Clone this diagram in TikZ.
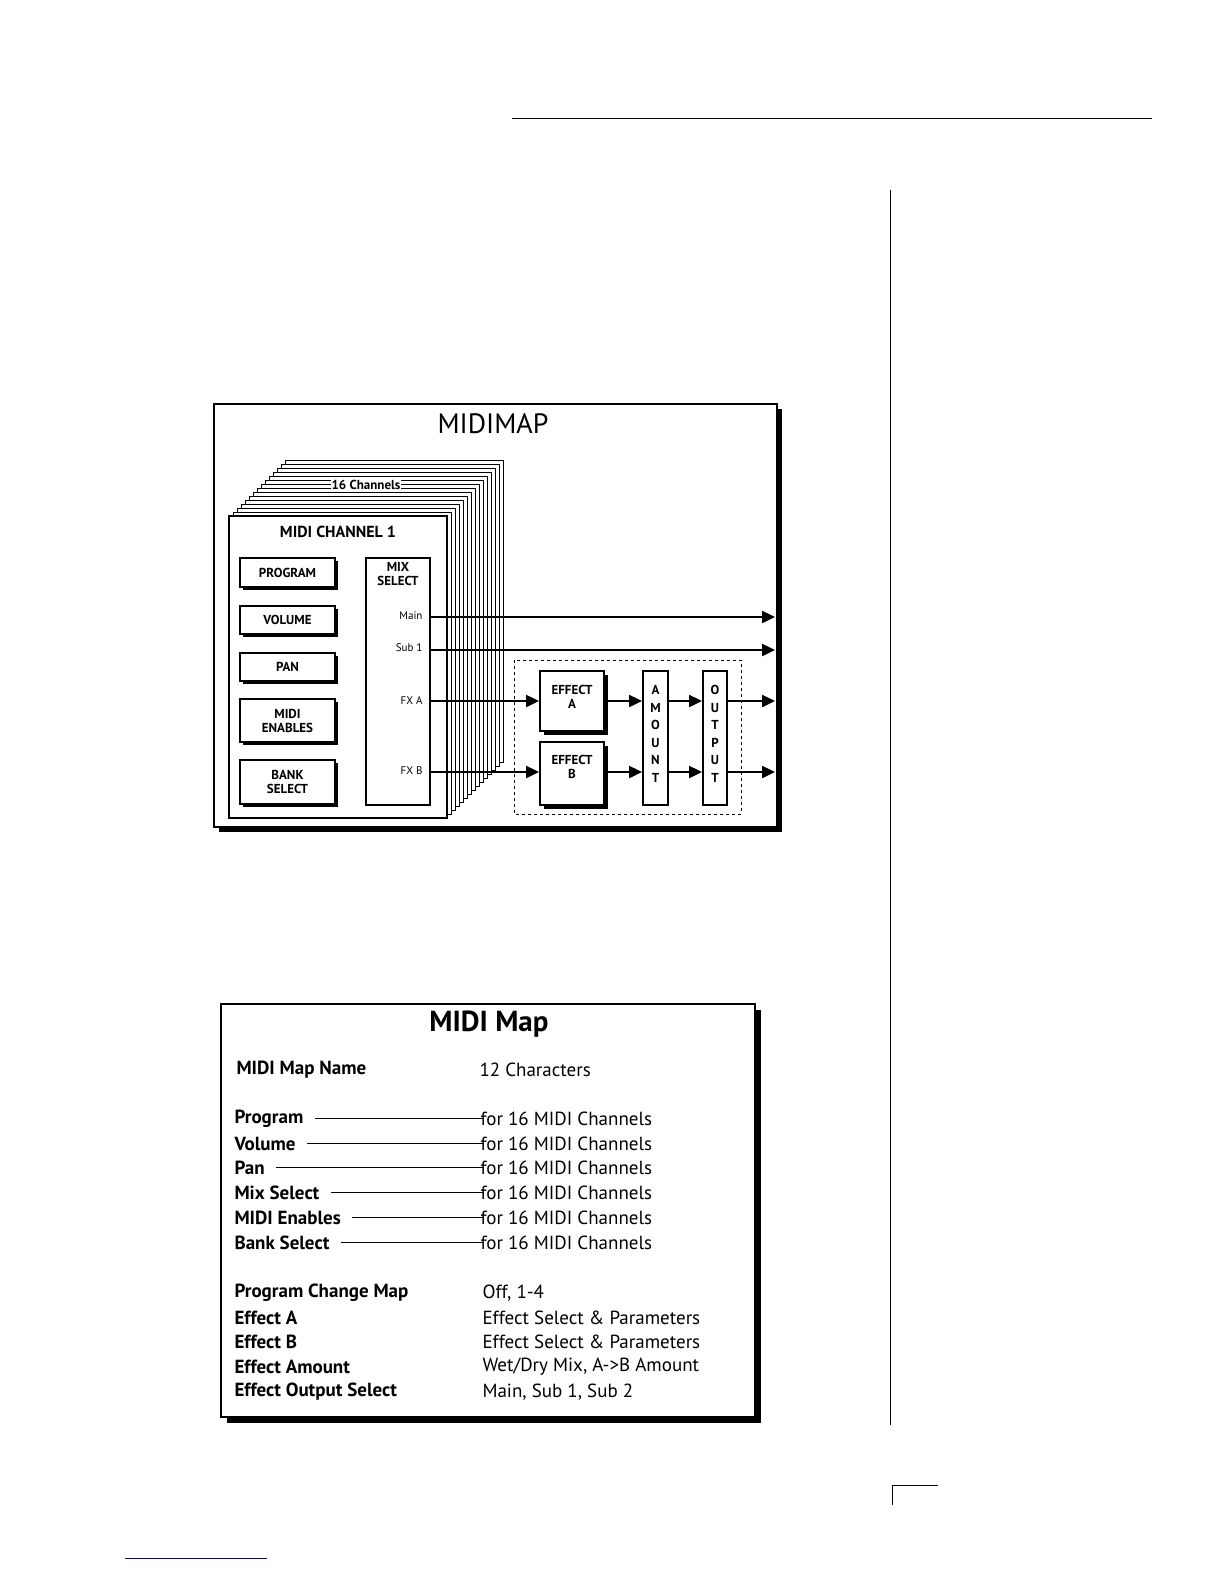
\documentclass[tikz,border=0pt]{standalone}
\usepackage{fontspec}
\setmainfont{PT Sans}
\usetikzlibrary{arrows.meta}
\begin{document}
\begin{tikzpicture}[x=1pt,y=-1pt,
  box/.style={draw,line width=1.4pt,fill=white},
  shad/.style={fill=black},
  flow/.style={line width=2.4pt,-{Triangle[length=13pt,width=12pt]}},
  sm/.style={font=\fontsize{13}{14}\selectfont\bfseries,align=center},
  row/.style={anchor=west,font=\fontsize{19}{20}\selectfont\bfseries},
  val/.style={anchor=west,font=\fontsize{19}{20}\selectfont},
  conn/.style={line width=0.9pt}]
\useasboundingbox (0,0) rectangle (1224,1584);
\fill[white] (0,0) rectangle (1224,1584);
% page rules
\draw[line width=1pt] (512,119) -- (1152,119);
\draw[line width=1pt] (890,190) -- (890,1425);
\draw[line width=1pt] (938,1485) -- (892,1485) -- (892,1505);
\draw[line width=1pt,blue!60!black] (125,1558) -- (267,1558);
% MIDIMAP box
\fill (219,409) rectangle (782,832);
\draw[box] (214,404) rectangle (777,827);
\node[font=\fontsize{28}{30}\selectfont] (ttl) at (493,424) {MIDIMAP};
% stacked pages
\foreach \k in {14,13,...,1}{
  \draw[line width=1pt,fill=white] (229+4*\k,516-4*\k) rectangle (447+4*\k,818-4*\k);
}
\node[fill=white,inner sep=1pt,font=\fontsize{13}{14}\selectfont\bfseries] (ch16) at (366,485) {16 Channels};
\draw[box] (229,516) rectangle (447,818);
\node[font=\fontsize{16}{17}\selectfont\bfseries] (ch1) at (338,532) {MIDI CHANNEL 1};
% left boxes
\foreach \n/\a/\b/\t in {prog/558/587/PROGRAM,vol/606/634/VOLUME,pan/653/681/PAN,men/699/742/MIDI\\ENABLES,bank/760/804/BANK\\SELECT}{
  \fill (243,\a+3) rectangle (338,\b+3);
  \draw[box] (240,\a) rectangle (335,\b);
  \node[sm] (\n) at (287.5,{(\a+\b)/2}) {\t};
}
% mix select
\draw[box] (366,558) rectangle (430,805);
\node[sm,anchor=north] (mix) at (398,559) {MIX\\SELECT};
\node[font=\fontsize{11}{12}\selectfont,anchor=east] (pmain) at (426,616) {Main};
\node[font=\fontsize{11}{12}\selectfont,anchor=east] (psub) at (426,648) {Sub 1};
\node[font=\fontsize{11}{12}\selectfont,anchor=east] (pfxa) at (426,701) {FX A};
\node[font=\fontsize{11}{12}\selectfont,anchor=east] (pfxb) at (426,771) {FX B};
\coordinate (oMain) at (430,617);
\coordinate (oSub) at (430,650);
\coordinate (oA) at (430,701);
\coordinate (oB) at (430,772);
\coordinate (eMain) at (775,617);
\coordinate (eSub) at (775,650);
% dashed region
\draw[dashed,line width=1pt] (514,660) rectangle (741,814);
% effects
\fill (544,675) rectangle (608,735);
\draw[box] (540,671) rectangle (604,731);
\node[sm,anchor=north] (efa) at (572,682) {EFFECT\\A};
\fill (544,746) rectangle (608,809);
\draw[box] (540,742) rectangle (604,805);
\node[sm,anchor=north] (efb) at (572,752) {EFFECT\\B};
\draw[box] (643,671) rectangle (668,805);
\node[sm,anchor=north,font=\fontsize{13}{17.5}\selectfont\bfseries] (amt) at (655.5,682) {A\\M\\O\\U\\N\\T};
\draw[box] (703,671) rectangle (727,805);
\node[sm,anchor=north,font=\fontsize{13}{17.5}\selectfont\bfseries] (outp) at (715,682) {O\\U\\T\\P\\U\\T};
\draw[flow] (oMain) -- (eMain);
\draw[flow] (oSub) -- (eSub);
\draw[flow] (oA) -- (539,701);
\draw[flow] (oB) -- (539,772);
\draw[flow] (604,701) -- (642,701);
\draw[flow] (604,772) -- (642,772);
\draw[flow] (668,701) -- (702,701);
\draw[flow] (668,772) -- (702,772);
\draw[flow] (727,701) -- (775,701);
\draw[flow] (727,772) -- (775,772);
% MIDI Map table
\fill (227,1010) rectangle (761,1423);
\draw[box] (221,1004) rectangle (755,1417);
\node[font=\fontsize{29}{30}\selectfont\bfseries] (t2) at (489,1024) {MIDI Map};
\node[row] (nm) at (233,1070) {MIDI Map Name};
\node[val] (nmv) at (476,1070) {12 Characters};
\foreach \n/\y/\t in {r1/1119/Program,r2/1144/Volume,r3/1168/Pan,r4/1193/Mix Select,r5/1218/MIDI Enables,r6/1243/Bank Select}{
  \node[row] (\n) at (231,\y) {\t};
  \node[val] (\n v) at (477,\y) {for 16 MIDI Channels};
  \draw[conn] ([xshift=8pt,yshift=1pt]\n.east) -- ([xshift=6pt,yshift=1pt]\n v.west);
}
\foreach \n/\y/\t/\v in {s1/1293/Program Change Map/{Off, 1-4},s2/1318/Effect A/{Effect Select \& Parameters},s3/1342/Effect B/{Effect Select \& Parameters},s4/1367/Effect Amount/{Wet/Dry Mix, A->B Amount},s5/1392/Effect Output Select/{Main, Sub 1, Sub 2}}{
  \node[row] (\n) at (231,\y) {\t};
  \node[val] (\n v) at (479,\y) {\v};
}
\end{tikzpicture}
\end{document}
